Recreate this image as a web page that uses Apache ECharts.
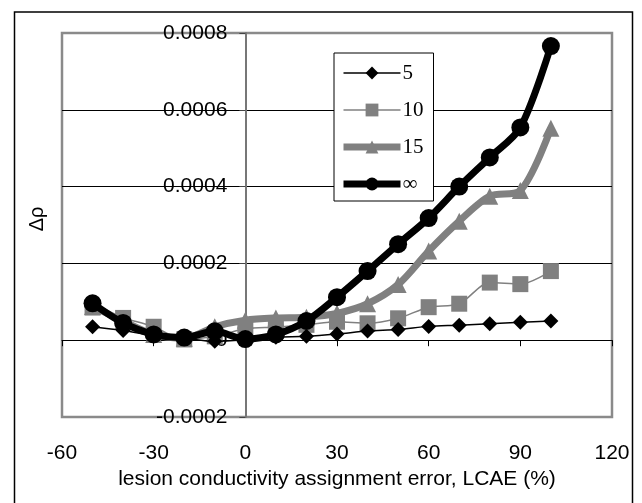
<!DOCTYPE html>
<html>
<head>
<meta charset="utf-8">
<script src="https://cdn.jsdelivr.net/npm/echarts@6/dist/echarts.min.js"></script>
<style>html,body{margin:0;padding:0;background:#fff;}#c{width:642px;height:503px;}</style>
</head>
<body>
<div id="c"></div>
<script>
var lcae = [-50, -40, -30, -20, -10, 0, 10, 20, 30, 40, 50, 60, 70, 80, 90, 100];
var s5   = [0.000035, 0.000025, 0.000012, 0.000005, -0.000003, 0.000001, 0.000008, 0.000010, 0.000016, 0.000024, 0.000028, 0.000036, 0.000039, 0.000043, 0.000047, 0.000050];
var s10  = [0.000085, 0.000058, 0.000035, 0.000002, 0.000010, 0.000030, 0.000034, 0.000040, 0.000048, 0.000044, 0.000057, 0.000086, 0.000095, 0.000150, 0.000146, 0.000180];
var s15  = [0.000088, 0.000050, 0.000015, 0.000005, 0.000035, 0.000052, 0.000058, 0.000060, 0.000070, 0.000095, 0.000145, 0.000232, 0.000310, 0.000375, 0.000390, 0.000552];
var sInf = [0.000096, 0.000045, 0.000015, 0.000007, 0.000023, 0.000003, 0.000015, 0.000050, 0.000112, 0.000180, 0.000250, 0.000318, 0.000400, 0.000476, 0.000554, 0.000766];
var seriesNames = ['5', '10', '15', '\u221e'];
var xTicks = {min: -60, max: 120, interval: 30};
var yTicks = {min: -0.0002, max: 0.0008, interval: 0.0002};

function pairs(ys) { return lcae.map(function (x, i) { return [x, ys[i]]; }); }

var gridLeft = 62, gridRight = 30;
var plotW = 642 - gridLeft - gridRight;
// y axis crosses the x axis at x = 0
var yAxisOffset = -plotW * (0 - xTicks.min) / (xTicks.max - xTicks.min);

var chart = echarts.init(document.getElementById('c'), null, {renderer: 'canvas'});
var sans = "'Liberation Sans', Arial, sans-serif";
chart.setOption({
  animation: false,
  backgroundColor: '#fff',
  grid: {left: gridLeft, top: 33, right: gridRight, bottom: 86, outerBoundsMode: 'none', containLabel: false,
         show: true, borderColor: '#8a8a8a', borderWidth: 2.5, backgroundColor: 'transparent'},
  legend: {
    orient: 'vertical', left: 334, top: 53,
    padding: [9, 10, 6, 6], itemGap: 15, itemWidth: 57, itemHeight: 16,
    borderColor: '#000', borderWidth: 1, backgroundColor: '#fff',
    lineStyle: {width: 'inherit'},
    textStyle: {fontFamily: "'Liberation Serif', 'Times New Roman', serif", fontSize: 21, color: '#000', lineHeight: 22, padding: [0, 0, 0, -3]},
    data: seriesNames
  },
  xAxis: [
    {type: 'value', min: xTicks.min, max: xTicks.max, interval: xTicks.interval, position: 'bottom',
     axisLine: {show: true, onZero: true, lineStyle: {color: '#000', width: 1}},
     axisTick: {show: true, length: 6, lineStyle: {color: '#000', width: 1}},
     axisLabel: {show: false}, splitLine: {show: false}},
    {type: 'value', min: xTicks.min, max: xTicks.max, interval: xTicks.interval, position: 'bottom',
     axisLine: {show: false, onZero: false}, axisTick: {show: false}, splitLine: {show: false},
     axisLabel: {show: true, margin: 26, fontSize: 21, fontFamily: sans, color: '#000'},
     name: 'lesion conductivity assignment error, LCAE (%)', nameLocation: 'middle', nameGap: 50,
     nameTextStyle: {fontSize: 21, fontFamily: sans, color: '#000'}}
  ],
  yAxis: {
    type: 'value', min: yTicks.min, max: yTicks.max, interval: yTicks.interval, position: 'left',
    offset: yAxisOffset,
    axisLine: {show: true, onZero: false, lineStyle: {color: '#777', width: 2}},
    axisTick: {show: true, length: 6, lineStyle: {color: '#444', width: 1}},
    axisLabel: {margin: 18, fontSize: 21, fontFamily: sans, color: '#000',
      formatter: function (v) { var r = Math.round(v * 1e4) / 1e4; return r === 0 ? '0' : r.toFixed(4); }},
    splitLine: {show: true, showMinLine: false, showMaxLine: false, lineStyle: {color: '#000', width: 1}}
  },
  graphic: [
    {type: 'rect', silent: true, z: 100, shape: {x: 14.5, y: 12, width: 618, height: 500},
     style: {fill: 'none', stroke: '#000', lineWidth: 1.5}},
    {type: 'text', x: 37, y: 219, rotation: Math.PI / 2, z: 100,
     style: {text: '\u0394\u03c1', font: "20px 'Liberation Sans', Arial, sans-serif", fill: '#000', textAlign: 'center', textVerticalAlign: 'middle'}}
  ],
  series: [
    {name: seriesNames[0], type: 'line', xAxisIndex: 0, data: pairs(s5), smooth: 0.3,
     symbol: 'diamond', symbolSize: 15, itemStyle: {color: '#000'}, lineStyle: {color: '#000', width: 1.5}, z: 4},
    {name: seriesNames[1], type: 'line', xAxisIndex: 0, data: pairs(s10), smooth: 0.3,
     symbol: 'rect', symbolSize: 16, itemStyle: {color: '#808080'}, lineStyle: {color: '#808080', width: 1.5}, z: 3},
    {name: seriesNames[2], type: 'line', xAxisIndex: 0, data: pairs(s15), smooth: 0.3,
     symbol: 'triangle', symbolSize: 17, itemStyle: {color: '#808080'}, lineStyle: {color: '#808080', width: 7}, z: 2},
    {name: seriesNames[3], type: 'line', xAxisIndex: 0, data: pairs(sInf), smooth: 0.3,
     symbol: 'circle', symbolSize: 18, itemStyle: {color: '#000'}, lineStyle: {color: '#000', width: 7}, z: 5}
  ]
});
</script>
</body>
</html>
